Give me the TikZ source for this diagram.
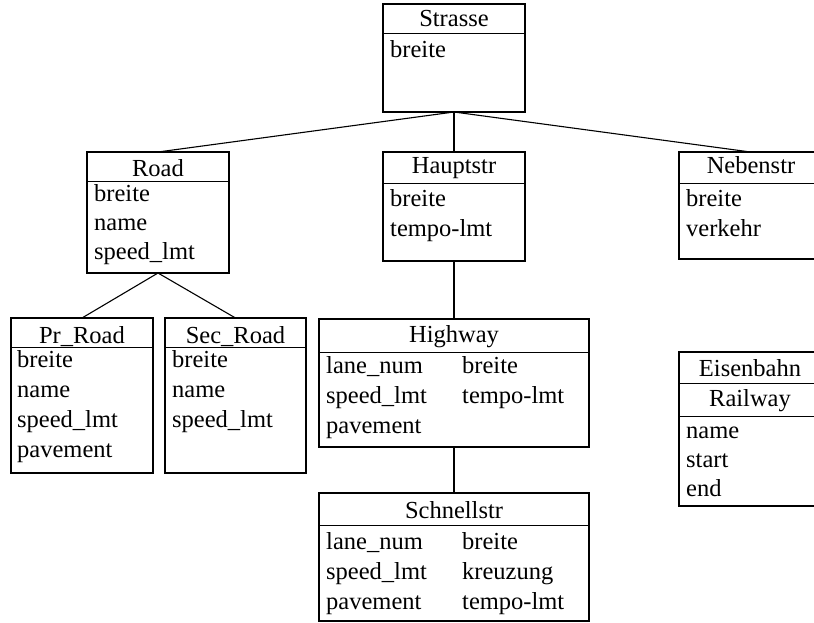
\documentclass[tikz,border=0pt]{standalone}
\usepackage{fontspec}
\setmainfont{Liberation Serif}
\begin{document}
\begin{tikzpicture}[x=1pt,y=-1pt,
  cls/.style={draw, line width=1.2pt, rectangle, inner sep=0pt, outer sep=0pt, anchor=north west},
  divider/.style={line width=1pt},
  ttl/.style={anchor=base, inner sep=0pt},
  att/.style={anchor=base west, inner sep=0pt},
  link/.style={line width=1.1pt},
  every node/.append style={font=\fontsize{24.5}{29.5}\selectfont}]
\useasboundingbox (0,0) rectangle (814,623);
\clip (0,0) rectangle (814,623);

% class boxes
\node[cls, minimum width=142pt, minimum height=108pt] (strasse) at (383,4) {};
\node[cls, minimum width=142pt, minimum height=121pt] (road) at (87,152) {};
\node[cls, minimum width=142pt, minimum height=109pt] (haupt) at (383,152) {};
\node[cls, minimum width=143pt, minimum height=107pt] (neben) at (679,152) {};
\node[cls, minimum width=142pt, minimum height=155pt] (prroad) at (11,318) {};
\node[cls, minimum width=141pt, minimum height=155pt] (secroad) at (165,318) {};
\node[cls, minimum width=270pt, minimum height=128pt] (highway) at (319,319) {};
\node[cls, minimum width=270pt, minimum height=128pt] (schnell) at (319,493) {};
\node[cls, minimum width=143pt, minimum height=154pt] (eisen) at (679,352) {};

% header separators
\draw[divider] (strasse.west |- 0,34) -- (strasse.east |- 0,34);
\draw[divider] (road.west |- 0,181) -- (road.east |- 0,181);
\draw[divider] (haupt.west |- 0,183) -- (haupt.east |- 0,183);
\draw[divider] (neben.west |- 0,183) -- (neben.east |- 0,183);
\draw[divider] (prroad.west |- 0,347) -- (prroad.east |- 0,347);
\draw[divider] (secroad.west |- 0,347) -- (secroad.east |- 0,347);
\draw[divider] (highway.west |- 0,352) -- (highway.east |- 0,352);
\draw[divider] (schnell.west |- 0,525) -- (schnell.east |- 0,525);
\draw[divider] (eisen.west |- 0,383) -- (eisen.east |- 0,383);
\draw[divider] (eisen.west |- 0,416) -- (eisen.east |- 0,416);

% hierarchy links
\draw[link] (strasse.south) -- (road.north);
\draw[link] (strasse.south) -- (haupt.north);
\draw[link] (strasse.south) -- (neben.north);
\draw[link] (road.south) -- (prroad.north);
\draw[link] (road.south) -- (secroad.north);
\draw[link] (haupt.south) -- (highway.north);
\draw[link] (highway.south) -- (schnell.north);

% Strasse
\node[ttl] (strasse-t) at (454,27) {Strasse};
\node[att] (strasse-a1) at (390,58) {breite};

% Road
\node[ttl] (road-t) at (158,176) {Road};
\node[att] (road-a1) at (94,201) {breite};
\node[att] (road-a2) at (94,230) {name};
\node[att] (road-a3) at (94,259) {speed\_lmt};

% Hauptstr
\node[ttl] (haupt-t) at (454,174) {Hauptstr};
\node[att] (haupt-a1) at (390,206) {breite};
\node[att] (haupt-a2) at (390,236) {tempo-lmt};

% Nebenstr
\node[ttl] (neben-t) at (751,174) {Nebenstr};
\node[att] (neben-a1) at (686,206) {breite};
\node[att] (neben-a2) at (686,236) {verkehr};

% Pr_Road
\node[ttl] (prroad-t) at (82,343) {Pr\_Road};
\node[att] (prroad-a1) at (17,367) {breite};
\node[att] (prroad-a2) at (17,397) {name};
\node[att] (prroad-a3) at (17,427) {speed\_lmt};
\node[att] (prroad-a4) at (17,457) {pavement};

% Sec_Road
\node[ttl] (secroad-t) at (235.5,343) {Sec\_Road};
\node[att] (secroad-a1) at (172,367) {breite};
\node[att] (secroad-a2) at (172,397) {name};
\node[att] (secroad-a3) at (172,427) {speed\_lmt};

% Highway
\node[ttl] (highway-t) at (454,342) {Highway};
\node[att] (highway-a1) at (326,373) {lane\_num};
\node[att] (highway-a2) at (326,403) {speed\_lmt};
\node[att] (highway-a3) at (326,433) {pavement};
\node[att] (highway-b1) at (462,373) {breite};
\node[att] (highway-b2) at (462,403) {tempo-lmt};

% Schnellstr
\node[ttl] (schnell-t) at (454,518) {Schnellstr};
\node[att] (schnell-a1) at (326,549) {lane\_num};
\node[att] (schnell-a2) at (326,579) {speed\_lmt};
\node[att] (schnell-a3) at (326,609) {pavement};
\node[att] (schnell-b1) at (462,549) {breite};
\node[att] (schnell-b2) at (462,579) {kreuzung};
\node[att] (schnell-b3) at (462,609) {tempo-lmt};

% Eisenbahn / Railway
\node[ttl] (eisen-t) at (750,376) {Eisenbahn};
\node[ttl] (eisen-t2) at (750,406) {Railway};
\node[att] (eisen-a1) at (686,438) {name};
\node[att] (eisen-a2) at (686,467) {start};
\node[att] (eisen-a3) at (686,496) {end};
\end{tikzpicture}
\end{document}
